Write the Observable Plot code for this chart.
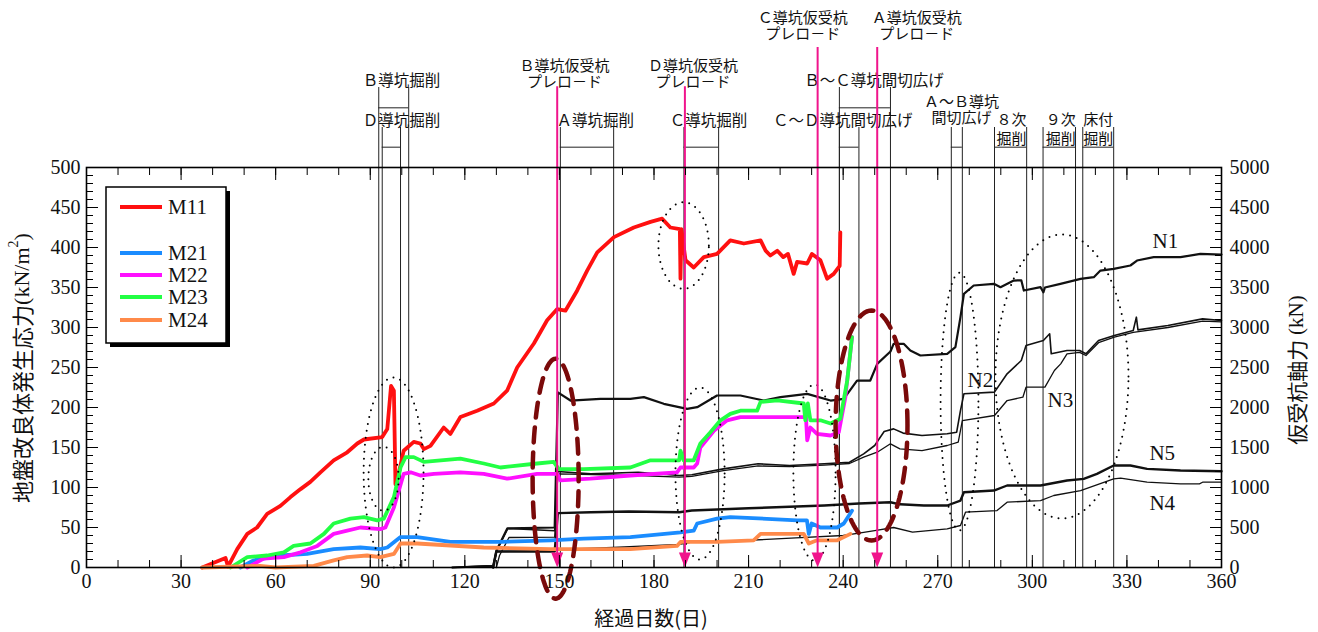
<!DOCTYPE html>
<html><head><meta charset="utf-8">
<script src="https://cdn.jsdelivr.net/npm/d3@7"></script>
<script src="https://cdn.jsdelivr.net/npm/@observablehq/plot@0.6"></script>
<style>
body{margin:0;background:#fff;}
#wrap{position:relative;width:1318px;height:632px;overflow:hidden;}
</style></head><body><div id="wrap"></div>
<script>
// ---- tick labels ----
const xTicks = [0,30,60,90,120,150,180,210,240,270,300,330,360];
const yTicksLeft = [0,50,100,150,200,250,300,350,400,450,500];
const yTicksRight = ["0","500","1000","1500","2000","2500","3000","3500","4000","4500","5000"];

// ---- ground improvement stress (kN/m2), [day, value] ----
const m11 = [[36.7,0],[44.1,12],[44.9,1],[47.8,23],[51,42],[54.1,50],[57.3,67],[61.5,77],[64.7,88],[67.9,98],[71,107],[74.2,119],[78.4,134],[82.7,144],[85.9,155],[88,160],[93.8,163],[95.4,173],[96.6,227],[97.5,221],[98,104],[99.1,119],[100.6,146],[103.8,157],[105.9,155],[107,148],[109.1,152],[113.3,175],[115.4,167],[118.6,188],[123.9,196],[129.2,205],[133.4,221],[136.6,250],[141.9,280],[146.1,309],[149.3,323],[151.9,321],[155.6,346],[158.8,371],[162,394],[167.3,413],[173.6,425],[178.9,432],[182.6,436],[185.2,425],[188.2,423],[188.4,361],[188.7,423],[190,384],[192.6,375],[195.8,388],[200,392],[204.2,409],[208.5,405],[213.8,409],[215.4,396],[216.9,390],[219.1,396],[221,388],[222.5,392],[224.3,367],[225.4,382],[228.6,380],[230.1,392],[232.8,384],[234.9,361],[237,367],[238.9,377],[239.1,419]];
const m21 = [[48.8,0],[53.1,9],[61.5,15],[70,17],[78.4,23],[86.9,25],[93.2,23],[95.4,25],[99.6,38],[104.9,38],[115.4,32],[131.3,32],[147.2,34],[157.7,36],[172.5,38],[188.4,44],[192.6,46],[193.7,55],[200,61],[204.2,63],[225.4,59],[228.5,59],[229.1,42],[230,55],[232.8,50],[238.1,50],[240.2,55],[242.8,71]];
const m22 = [[51,0],[56.2,11],[62.6,13],[67.9,19],[73.2,27],[78.4,42],[82.7,46],[86.9,50],[93.2,48],[94.8,50],[97.5,75],[100.6,117],[102.8,119],[105.9,115],[110.2,117],[118.6,119],[126,117],[133.4,111],[142.9,117],[149.3,117],[150.3,109],[159.8,111],[172.5,115],[187.3,119],[188.4,125],[192.6,125],[193.7,130],[194.7,150],[199,171],[203.2,184],[207.4,188],[225.4,188],[228.2,188],[228.6,159],[229.6,175],[231.7,167],[236,165],[238.6,169],[240.7,213],[242.8,288]];
const m23 = [[45.7,0],[51,13],[57.3,15],[62.6,19],[65.7,27],[71,30],[75.3,42],[78.4,55],[83.7,61],[88,63],[92.2,59],[94.3,61],[97.5,88],[99.6,125],[101.2,138],[103.8,138],[107,132],[118.6,136],[126,130],[131.3,125],[142.9,130],[148.2,132],[149.8,123],[157.7,123],[172.5,125],[178.9,134],[188,134],[188.4,146],[189.4,134],[192.6,134],[194.7,155],[197.9,169],[201.1,184],[204.2,192],[207.4,196],[212.7,196],[213.8,207],[219.1,209],[227.5,205],[228,184],[228.8,205],[229.6,184],[232.8,184],[236,180],[239.1,186],[241.3,234],[242.8,288]];
const m24 = [[36.7,0],[55,2],[60,0],[72.1,2],[78.4,9],[82.7,13],[89,15],[93.2,13],[97.5,17],[99.6,30],[104.9,30],[126,25],[147.2,23],[172.5,23],[187.3,27],[188.4,32],[200,32],[211.6,34],[213.8,42],[227.5,42],[229.1,30],[231.7,34],[238.1,34],[240.2,38],[242.3,42]];

// ---- temporary pile axial force (kN), [day, value] ----
const n1 = [[116,0],[129,20],[130,210],[133.5,490],[148.5,500],[149.5,2190],[153.5,2087],[163,2108],[172.5,2108],[176.8,2130],[183.1,2046],[190.5,1983],[193.7,2004],[200,2150],[207.4,2150],[214.8,2087],[220.1,2130],[228.6,2171],[236,2087],[240.2,2108],[244.4,2337],[248.6,2337],[250.8,2546],[255,2700],[256,2796],[259.2,2796],[261.3,2712],[264.5,2650],[273,2671],[275.6,2754],[277.2,3129],[278.3,3421],[281.4,3525],[287.8,3546],[289.9,3504],[294.1,3587],[296.5,3590],[297.3,3462],[302.6,3504],[303.5,3440],[304,3500],[308.9,3546],[315.3,3608],[319.5,3629],[321.6,3712],[325.8,3733],[331.1,3775],[333.2,3837],[338.5,3879],[347,3879],[353.3,3921],[360,3912]];
const n2 = [[129,0],[130,200],[133.6,487],[148.5,460],[149.5,1200],[160,1170],[175,1190],[188,1150],[192,1160],[202,1233],[213,1296],[223,1275],[234,1296],[242,1316],[246.5,1421],[250,1525],[253,1700],[256,1733],[259,1680],[265,1650],[273,1671],[276,1691],[277.2,1962],[278.3,2171],[288,2192],[292,2421],[296.5,2587],[298,2775],[303.5,2837],[305.5,2921],[306,2671],[311,2712],[315,2712],[317,2671],[321,2837],[326,2900],[332,2962],[333,3129],[333.5,2970],[343,3025],[354,3108],[360,3087]];
const n3 = [[130,0],[131,150],[134,375],[148.5,380],[149.5,1170],[175,1150],[188,1130],[192,1140],[202,1210],[213,1270],[223,1260],[234,1280],[242,1300],[246.5,1379],[250.8,1441],[255,1546],[258,1483],[265,1462],[273,1525],[276.5,1566],[277.8,1837],[288,1900],[292,2087],[297,2129],[298,2254],[304,2254],[307,2462],[309,2546],[311,2671],[315,2690],[317,2650],[321,2810],[326,2880],[332,2940],[343,3000],[354,3080],[360,3070]];
const n4 = [[116,0],[129,25],[130,200],[148.5,210],[150,225],[167,250],[188,290],[192,316],[210,340],[225,370],[240,400],[245,430],[250,460],[256,500],[262,441],[273,483],[277.2,525],[278.8,691],[288.8,712],[292,816],[302.6,837],[306.8,900],[315.3,962],[325.8,1108],[328,1116],[336.4,1066],[347,1046],[353,1046],[354,1066],[360,1066]];
const n5 = [[129,0],[130,200],[148.5,200],[149.5,680],[160,690],[172,700],[188,690],[192,712],[210,740],[234,775],[245,800],[255,816],[258,790],[265.6,775],[273,775],[277.2,837],[278.3,941],[287.8,962],[292,1025],[302.6,1025],[311,1087],[316.3,1108],[320.5,1171],[325.8,1275],[331.1,1275],[336.4,1233],[347,1212],[360,1204]];

// ---- construction events ----
const preloadDays = [149.3, 189.8, 231.9, 250.8];
const preloadLevel = ["mid","mid","high","high"];
const bracketStart = [92.7, 93.8, 150.3, 189.5, 238.8, 238.8, 274.3, 288.0, 303.4, 316.0];
const bracketEnd   = [102.2, 99.6, 167.2, 200.5, 255.0, 245.0, 277.8, 298.2, 313.7, 325.8];
const bracketRow   = ["u","l","l","l","u","l","l","l","l","l"];

const pink = "#f0148c";
const seriesColor = [
  {name:"M11", pts:m11, color:"#ff1010"},
  {name:"M21", pts:m21, color:"#1a8cff"},
  {name:"M22", pts:m22, color:"#ff10ff"},
  {name:"M23", pts:m23, color:"#22ff44"},
  {name:"M24", pts:m24, color:"#ff8a4a"}
];
const seriesBlack = [
  {name:"N1", pts:n1, w:2.2},
  {name:"N2", pts:n2, w:1.6},
  {name:"N3", pts:n3, w:1.3},
  {name:"N4", pts:n4, w:1.3},
  {name:"N5", pts:n5, w:2.4}
];

// annotation layout (in axis units; values above 500 sit above the frame)
const topTexts = [
  {t:"Ｂ導坑掘削", x:99.9, y:607.5},
  {t:"Ｂ～Ｃ導坑間切広げ", x:249.8, y:607.5},
  {t:"Ｄ導坑掘削", x:99.9, y:558},
  {t:"Ａ導坑掘削", x:161.4, y:558},
  {t:"Ｃ導坑掘削", x:197.3, y:558},
  {t:"Ｃ～Ｄ導坑間切広げ", x:239.9, y:558}
];
const preloadTexts = [
  {t:"Ｃ導坑仮受杭\nプレロ－ド", x:227.2, y:677.5},
  {t:"Ａ導坑仮受杭\nプレロ－ド", x:263.3, y:677.5},
  {t:"Ｂ導坑仮受杭\nプレロ－ド", x:151.6, y:617.5},
  {t:"Ｄ導坑仮受杭\nプレロ－ド", x:192.4, y:617.5},
  {t:"Ａ～Ｂ導坑\n間切広げ", x:277.5, y:572.5}
];
const stageTexts = [
  {t:"８次\n掘削", x:293.4, y:549},
  {t:"９次\n掘削", x:309.0, y:549},
  {t:"床付\n掘削", x:320.9, y:549}
];
const seriesLabels = [
  {t:"N1", x:342.2, y:407.5},{t:"N2", x:283.5, y:233.5},{t:"N3", x:308.9, y:208.5},
  {t:"N5", x:341.2, y:142.5},{t:"N4", x:341.2, y:80}
];
const dotEllipses = [
  {cx:97.4, cy:118.75, rx:9.5, ry:118.75},
  {cx:94.2, cy:111, rx:4.8, ry:40},
  {cx:189.4, cy:402.5, rx:8.0, ry:54},
  {cx:194.6, cy:117.5, rx:7.8, ry:107.5},
  {cx:230.9, cy:118.75, rx:6.7, ry:110},
  {cx:276.9, cy:207.5, rx:6.0, ry:161},
  {cx:309.4, cy:238.75, rx:21.1, ry:177.5}
];
const dashEllipses = [
  {cx:148.8, cy:111, rx:7.3, ry:150},
  {cx:249.0, cy:177.5, rx:11.4, ry:143.75}
];

// ---- build tables ----
const rowsOf = (s) => s.pts.map(([d,v]) => ({name:s.name, day:d, v}));
const ellPts = (list) => list.flatMap((e,i) => d3.range(0, 361, 3).map(a => ({id:i,
  x: e.cx + e.rx*Math.cos(a*Math.PI/180), y: e.cy + e.ry*Math.sin(a*Math.PI/180)})));
const levelTop = {u:600, l:550};
const levelBar = {u:574.6, l:525.4};
const brackets = bracketStart.map((s,i) => ({s, e:bracketEnd[i], top:levelTop[bracketRow[i]], bar:levelBar[bracketRow[i]]}));
const bracketVerts = brackets.flatMap(b => [{x:b.s, top:b.top},{x:b.e, top:b.top}]);
const arrows = preloadDays.map((d,i) => ({day:d, top: preloadLevel[i]==="high" ? 650 : 601}));
const downTri = {draw(ctx){ ctx.moveTo(0,0); ctx.lineTo(-6,-15); ctx.lineTo(6,-15); ctx.closePath(); }};
const xMinor = d3.range(0, 361, 10);
const yMinor = d3.range(0, 501, 10);
const blank = () => "";
const cjk = '"Noto Sans CJK JP", sans-serif';
const serif = '"Liberation Serif", "Times New Roman", serif';

const marks = [
  // event brackets
  Plot.ruleX(bracketVerts, {x:"x", y1:"top", y2:() => 0, stroke:"#222", strokeWidth:1}),
  Plot.ruleY(brackets, {y:"bar", x1:"s", x2:"e", stroke:"#222", strokeWidth:1}),
  Plot.text(topTexts, {x:"x", y:"y", text:"t", fontFamily:cjk, fontSize:15.5, fill:"#111"}),
  Plot.text(preloadTexts, {x:"x", y:"y", text:"t", fontFamily:cjk, fontSize:15, lineHeight:1.1, fill:"#111"}),
  Plot.text(stageTexts, {x:"x", y:"y", text:"t", fontFamily:cjk, fontSize:15, lineHeight:1.25, fill:"#111"}),
  // black pile force lines (kN -> axis units /10)
  ...seriesBlack.map(s => Plot.line(rowsOf(s), {x:"day", y:d => d.v/10, stroke:"#111", strokeWidth:s.w})),
  // colored stress lines
  ...seriesColor.map(s => Plot.line(rowsOf(s), {x:"day", y:"v", stroke:s.color, strokeWidth:3.8, strokeLinejoin:"round"})),
  // ellipses
  Plot.line(ellPts(dotEllipses), {x:"x", y:"y", z:"id", stroke:"#000", strokeWidth:2, strokeDasharray:"0,7", strokeLinecap:"round"}),
  Plot.line(ellPts(dashEllipses), {x:"x", y:"y", z:"id", stroke:"#7a0a0a", strokeWidth:4.5, strokeDasharray:"15,10", strokeLinecap:"round"}),
  // preload arrows
  Plot.ruleX(arrows, {x:"day", y1:"top", y2:() => 5, stroke:pink, strokeWidth:2}),
  Plot.dot(arrows, {x:"day", y:() => 0, symbol:downTri, fill:pink, stroke:"none", r:6}),
  // series labels
  Plot.text(seriesLabels, {x:"x", y:"y", text:"t", fontFamily:serif, fontSize:21, fill:"#111"}),
  // frame & tick marks (inward)
  Plot.frame({stroke:"#000", strokeWidth:1.6}),
  Plot.axisX(xTicks, {anchor:"bottom", tickSize:-12, tickFormat:blank, label:null}),
  Plot.axisX(xMinor, {anchor:"bottom", tickSize:-7, tickFormat:blank, label:null}),
  Plot.axisX(xTicks, {anchor:"top", tickSize:-12, tickFormat:blank, label:null}),
  Plot.axisX(xMinor, {anchor:"top", tickSize:-7, tickFormat:blank, label:null}),
  Plot.axisY(yTicksLeft, {anchor:"left", tickSize:-12, tickFormat:blank, label:null}),
  Plot.axisY(yMinor, {anchor:"left", tickSize:-7, tickFormat:blank, label:null}),
  Plot.axisY(yTicksLeft, {anchor:"right", tickSize:-12, tickFormat:blank, label:null}),
  Plot.axisY(yMinor, {anchor:"right", tickSize:-7, tickFormat:blank, label:null}),
  // tick labels
  Plot.text(xTicks, {x:d => d, frameAnchor:"bottom", dy:20, text:d => String(d), fontFamily:serif, fontSize:20, fill:"#111"}),
  Plot.text(yTicksLeft, {y:d => d, frameAnchor:"left", dx:-6, textAnchor:"end", text:d => String(d), fontFamily:serif, fontSize:20, fill:"#111"}),
  Plot.text(yTicksLeft, {y:d => d, frameAnchor:"right", dx:8, textAnchor:"start", text:(d,i) => yTicksRight[i], fontFamily:serif, fontSize:20, fill:"#111"})
];

const chart = Plot.plot({
  width:1318, height:632,
  marginLeft:86, marginRight:97, marginTop:167, marginBottom:65,
  x:{domain:[0,360]}, y:{domain:[0,500]},
  style:{fontFamily:serif, fontSize:"20px", background:"#fff", color:"#000", overflow:"visible"},
  marks
});
document.getElementById("wrap").appendChild(chart);

// ---- titles and legend ----
const svg = d3.select(chart);

const t1 = svg.append("text").attr("transform","translate(21,368) rotate(-90)")
  .attr("text-anchor","middle").attr("dominant-baseline","central").attr("fill","#111");
t1.append("tspan").attr("font-family",cjk).attr("font-size",22).text("地盤改良体発生応力");
t1.append("tspan").attr("font-family",serif).attr("font-size",22).text("(kN/m");
t1.append("tspan").attr("font-family",serif).attr("font-size",14).attr("dy",-8).text("2");
t1.append("tspan").attr("font-family",serif).attr("font-size",22).attr("dy",8).text(")");

const t2 = svg.append("text").attr("transform","translate(1296,370) rotate(-90)")
  .attr("text-anchor","middle").attr("dominant-baseline","central").attr("fill","#111");
t2.append("tspan").attr("font-family",cjk).attr("font-size",21).text("仮受杭軸力 ");
t2.append("tspan").attr("font-family",serif).attr("font-size",21).text("(kN)");

svg.append("text").attr("x",651).attr("y",617).attr("text-anchor","middle").attr("dominant-baseline","central")
  .attr("font-family",cjk).attr("font-size",20).attr("fill","#111").text("経過日数(日)");

const lg = svg.append("g");
lg.append("rect").attr("x",110).attr("y",191).attr("width",120).attr("height",156).attr("fill","#000");
lg.append("rect").attr("x",106).attr("y",187).attr("width",120).attr("height",156).attr("fill","#fff").attr("stroke","#000").attr("stroke-width",1.5);
const legendY = {M11:207, M21:253, M22:275, M23:297, M24:320};
seriesColor.forEach(s => {
  const y = legendY[s.name];
  lg.append("line").attr("x1",120).attr("x2",162).attr("y1",y).attr("y2",y).attr("stroke",s.color).attr("stroke-width",3.8);
  lg.append("text").attr("x",168).attr("y",y).attr("text-anchor","start").attr("dominant-baseline","central")
    .attr("font-family",serif).attr("font-size",21).attr("fill","#111").text(s.name);
});
</script></body></html>
